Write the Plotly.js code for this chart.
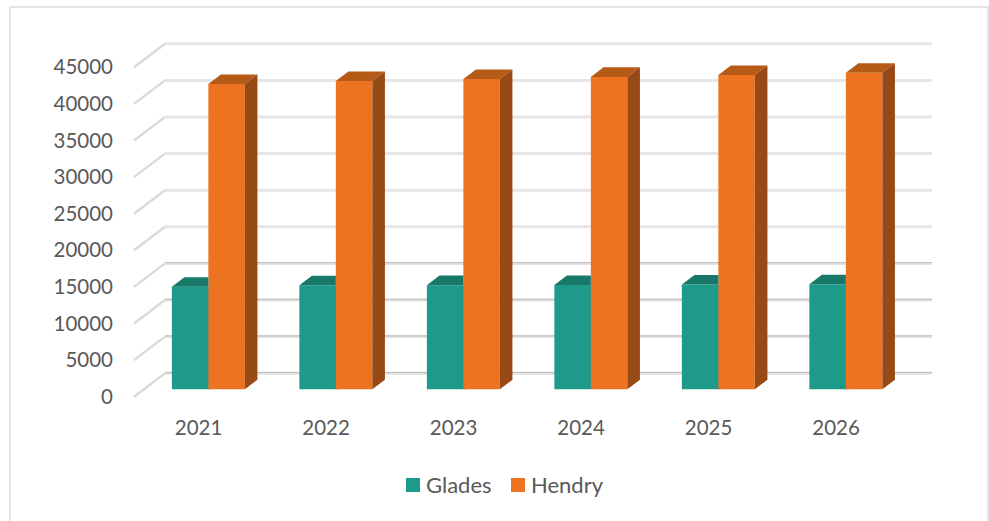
<!DOCTYPE html>
<html>
<head>
<meta charset="utf-8">
<script src="https://cdn.plot.ly/plotly-3.0.1.min.js"></script>
<style>html,body{margin:0;padding:0;background:#fff;overflow:hidden}</style>
</head>
<body>
<div id="chart" style="width:989px;height:521px"></div>
<script>
const years = [2021, 2022, 2023, 2024, 2025, 2026];
const glades = [14020, 14200, 14230, 14260, 14300, 14340];
const hendry = [41710, 42120, 42400, 42680, 42950, 43250];
const yTicks = [0, 5000, 10000, 15000, 20000, 25000, 30000, 35000, 40000, 45000];
const seriesNames = ['Glades', 'Hendry'];
const colors = {glades: '#1E9A8A', gladesTop: '#18796B', hendry: '#EE7321', hendryTop: '#B55A17', hendrySide: '#974916'};

const W = 989, H = 521;
const M = {l: 120, r: 49, t: 30, b: 111};
const pxPerYear = 127.5, pxPerValue = 36.6 / 5000;
const plotW = W - M.l - M.r, plotH = H - M.t - M.b;
const zeroPx = 396.7, year0Px = 198.6;
const xRange = [2021 - (year0Px - M.l) / pxPerYear, 2021 + (M.l + plotW - year0Px) / pxPerYear];
const yRange = [-(H - M.b - zeroPx) / pxPerValue, (zeroPx - M.t) / pxPerValue];

// Oblique depth: d=0 at the front of the floor, d=1 at the back wall
const depthX = 31 / pxPerYear, depthY = 23.5 / pxPerValue;
const dFront = 0.315, dBack = 0.72;
const barW = 36.5 / pxPerYear;
const wallLeft = xRange[0] + (134 - M.l) / pxPerYear;
const wallRight = xRange[0] + (901 - M.l) / pxPerYear;

const paperX = px => (px - M.l) / plotW;
const paperY = py => (H - M.b - py) / plotH;

function polyTrace(color, build) {
  const xs = [], ys = [];
  years.forEach((yr, i) => {
    const pts = build(yr, i);
    pts.forEach(p => { xs.push(p[0]); ys.push(p[1]); });
    xs.push(pts[0][0], null); ys.push(pts[0][1], null);
  });
  return {type: 'scatter', mode: 'lines', x: xs, y: ys, fill: 'toself', fillcolor: color,
    line: {width: 0, color: color}, hoverinfo: 'skip', showlegend: false};
}
const fx = (yr, off) => yr + off + dFront * depthX;
const bx = (yr, off) => yr + off + dBack * depthX;
const fy = v => v + dFront * depthY;
const by = v => v + dBack * depthY;

const traces = [
  {type: 'bar', name: seriesNames[0], x: years.map(y => fx(y, 0)), y: glades,
   base: years.map(() => fy(0)), width: barW + 0.02, offset: -barW,
   marker: {color: colors.glades, line: {width: 0}}, showlegend: false},
  {type: 'bar', name: seriesNames[1], x: years.map(y => fx(y, 0)), y: hendry,
   base: years.map(() => fy(0)), width: barW, offset: 0,
   marker: {color: colors.hendry, line: {width: 0}}, showlegend: false},
  polyTrace(colors.gladesTop, (yr, i) => [
    [fx(yr, -barW), fy(glades[i])], [fx(yr, 0), fy(glades[i])],
    [fx(yr, 0), by(glades[i])], [bx(yr, -barW), by(glades[i])]]),
  polyTrace(colors.hendryTop, (yr, i) => [
    [fx(yr, 0), fy(hendry[i])], [fx(yr, barW), fy(hendry[i])],
    [bx(yr, barW), by(hendry[i])], [bx(yr, 0), by(hendry[i])]]),
  polyTrace(colors.hendrySide, (yr, i) => [
    [fx(yr, barW), fy(0)], [bx(yr, barW), by(0)],
    [bx(yr, barW), by(hendry[i])], [fx(yr, barW), fy(hendry[i])]])
];

const shapes = [{
  type: 'rect', xref: 'paper', yref: 'paper', layer: 'below',
  x0: paperX(10), x1: paperX(988), y0: paperY(540), y1: paperY(7),
  line: {color: '#DCDCDC', width: 1.5}, fillcolor: 'rgba(0,0,0,0)'
}];
const wallLine = (x0, y0, x1, y1, line) => shapes.push({type: 'line', xref: 'x', yref: 'y', layer: 'below',
  x0: x0, y0: y0, x1: x1, y1: y1, line: line});
yTicks.forEach(v => {
  const low = v < 20000;
  wallLine(wallLeft, v, wallLeft + depthX, v + depthY, {color: '#DADADA', width: 2.4});
  wallLine(wallLeft + depthX, v + depthY, wallRight + depthX, v + depthY,
    {color: low ? '#E2E2E2' : '#E6E6E6', width: 3});
  if (low) {
    wallLine(wallLeft + depthX, v + depthY + 100, wallRight + depthX, v + depthY + 100,
      {color: '#BDBDBD', width: 1});
  }
});

// Legend
const tickFont = {family: 'Lato, "Open Sans", sans-serif', size: 20.5, color: '#595959'};
const legendFont = {family: 'Lato, "Open Sans", sans-serif', size: 22, color: '#595959'};
const legendItems = [
  {name: seriesNames[0], color: colors.glades, box: 406, text: 426},
  {name: seriesNames[1], color: colors.hendry, box: 511, text: 531}
];
const annotations = [];
legendItems.forEach(it => {
  shapes.push({type: 'rect', xref: 'paper', yref: 'paper',
    x0: paperX(it.box), x1: paperX(it.box + 14), y0: paperY(492), y1: paperY(478),
    line: {width: 0}, fillcolor: it.color});
  annotations.push({xref: 'paper', yref: 'paper', x: paperX(it.text), y: paperY(484.5),
    xanchor: 'left', yanchor: 'middle', showarrow: false, text: it.name, font: legendFont,
    borderpad: 0, xshift: -1});
});

const layout = {
  width: W, height: H, margin: M, paper_bgcolor: '#fff', plot_bgcolor: 'rgba(0,0,0,0)',
  barmode: 'overlay', showlegend: false, shapes: shapes, annotations: annotations,
  font: tickFont,
  xaxis: {range: xRange, tickvals: years, ticktext: years.map(String), showgrid: false,
    zeroline: false, showline: false, ticks: '', ticklabelstandoff: 3, fixedrange: true},
  yaxis: {range: yRange, tickvals: yTicks, tickformat: 'd', showgrid: false,
    zeroline: false, showline: false, ticks: '', ticklabelstandoff: 6, fixedrange: true}
};
Plotly.newPlot('chart', traces, layout, {displayModeBar: false, responsive: false});
</script>
</body>
</html>
